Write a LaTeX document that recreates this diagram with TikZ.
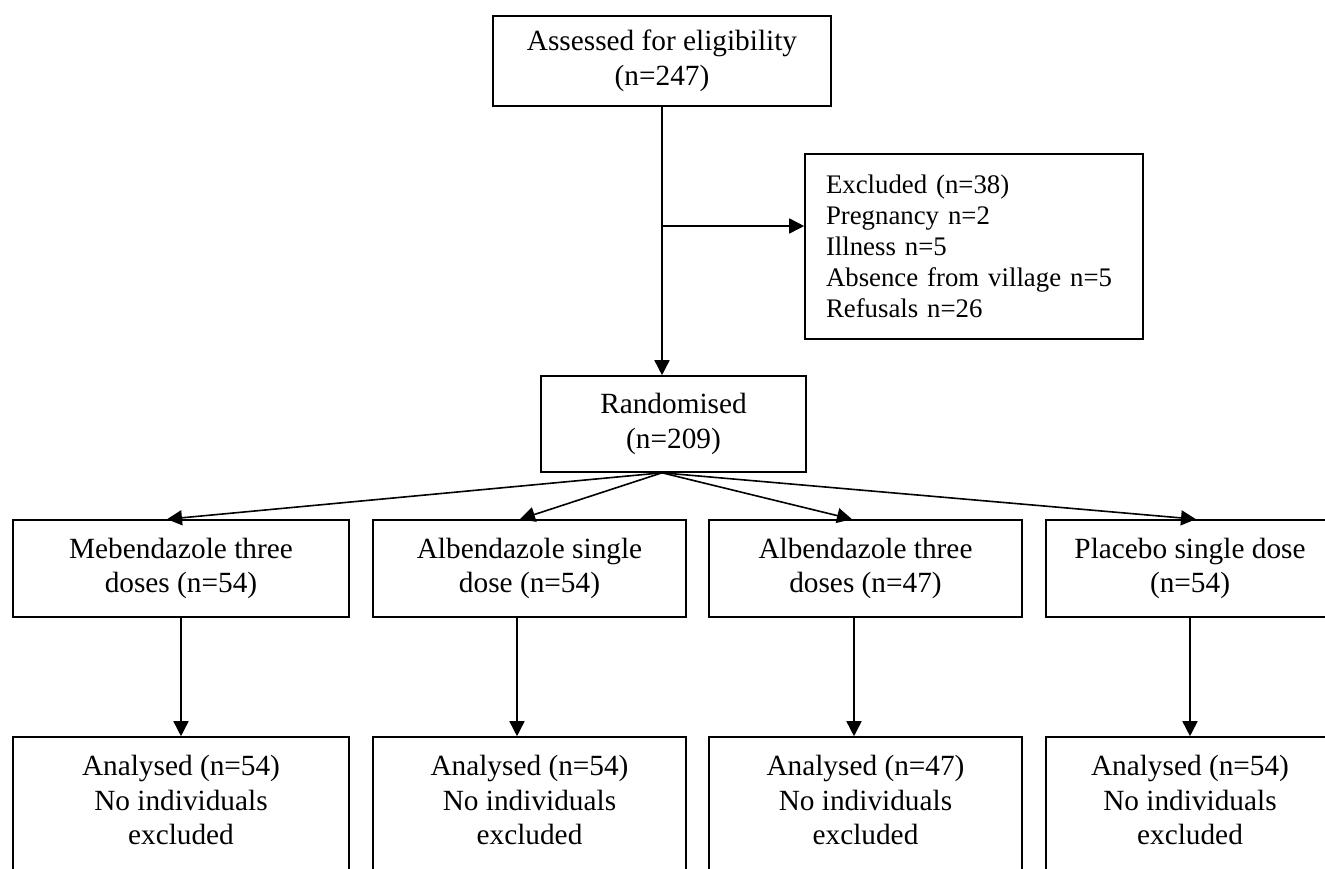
\documentclass[tikz,border=0pt]{standalone}
\usepackage{fontspec}
\setmainfont{Liberation Serif}
\usetikzlibrary{arrows.meta}
\begin{document}
\begin{tikzpicture}[x=1pt,y=-1pt,
  box/.style={draw, line width=1.6pt, inner sep=0pt, align=center, font=\fontsize{29.3}{34.5}\selectfont},
  txt/.style={inner sep=0pt, align=center, font=\fontsize{29.3}{34.5}\selectfont},
  arr/.style={line width=1.6pt, -{Triangle[length=15pt,width=15pt]}}]
\useasboundingbox (0,0) rectangle (1325,868);
\clip (0,0) rectangle (1325,868);
\fill[white] (0,0) rectangle (1325,868);
% boxes
\node[box, minimum width=338pt, minimum height=90pt] (top) at (662,61) {Assessed for eligibility\\(n=247)};
\node[box, minimum width=338pt, minimum height=185pt, text width=296pt, align=left, font=\fontsize{26.8}{31}\selectfont] (excl) at (974,246.5) {Excluded (n=38)\\Pregnancy n=2\\Illness n=5\\Absence from village n=5\\Refusals n=26};
\node[box, minimum width=265pt, minimum height=96pt] (rand) at (673.5,424) {Randomised\\(n=209)};
\node[box, minimum width=336pt, minimum height=97pt] (b1) at (181,568.5) {Mebendazole three\\doses (n=54)};
\node[box, minimum width=313pt, minimum height=97pt] (b2) at (529.5,568.5) {Albendazole single\\dose (n=54)};
\node[box, minimum width=313pt, minimum height=97pt] (b3) at (865.5,568.5) {Albendazole three\\doses (n=47)};
\node[box, minimum width=288pt, minimum height=97pt] (b4) at (1190,568.5) {Placebo single dose\\(n=54)};
\node[box, minimum width=336pt, minimum height=163pt] (c1) at (181,818.5) {};
\node[box, minimum width=313pt, minimum height=163pt] (c2) at (529.5,818.5) {};
\node[box, minimum width=313pt, minimum height=163pt] (c3) at (865.5,818.5) {};
\node[box, minimum width=288pt, minimum height=163pt] (c4) at (1190,818.5) {};
\node[txt, anchor=north] (c1t) at (181,755) {Analysed (n=54)\\No individuals\\excluded};
\node[txt, anchor=north] (c2t) at (529.5,755) {Analysed (n=54)\\No individuals\\excluded};
\node[txt, anchor=north] (c3t) at (865.5,755) {Analysed (n=47)\\No individuals\\excluded};
\node[txt, anchor=north] (c4t) at (1190,755) {Analysed (n=54)\\No individuals\\excluded};
% connectors
\coordinate (brk) at ([yshift=20.5pt]excl.west);
\coordinate (fan) at (top.south |- rand.south);
\draw[arr] (top.south) -- (top.south |- rand.north);
\draw[arr] (top.south |- brk) -- (brk);
\draw[arr] (fan) -- ([xshift=-14pt]b1.north);
\draw[arr] (fan) -- ([xshift=-9.5pt]b2.north);
\draw[arr] (fan) -- ([xshift=-13.5pt]b3.north);
\draw[arr] (fan) -- ([xshift=6pt]b4.north);
\draw[arr] (b1.south) -- (c1.north);
\draw[arr] ([xshift=-12.5pt]b2.south) -- ([xshift=-12.5pt]c2.north);
\draw[arr] ([xshift=-11.5pt]b3.south) -- ([xshift=-11.5pt]c3.north);
\draw[arr] (b4.south) -- (c4.north);
\end{tikzpicture}
\end{document}
